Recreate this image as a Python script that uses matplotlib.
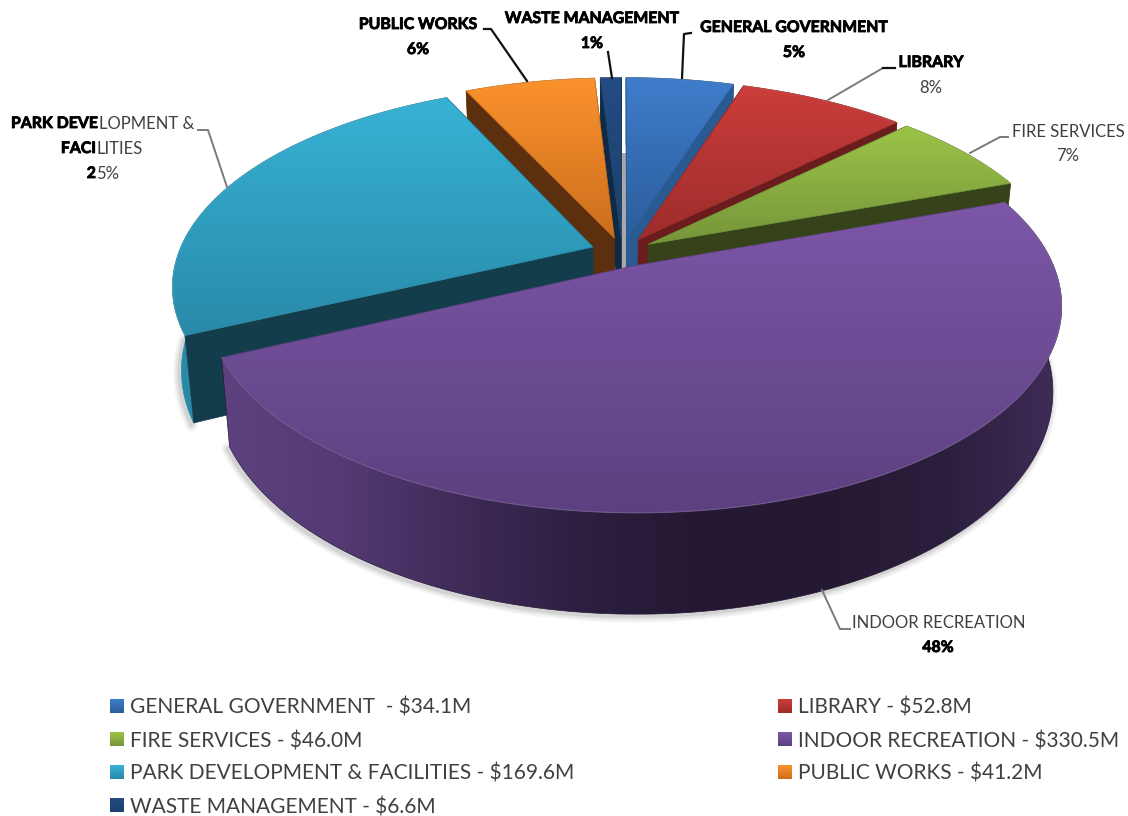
import numpy as np
import matplotlib
matplotlib.use("Agg")
import matplotlib.pyplot as plt
import matplotlib.patheffects as pe
from matplotlib.colors import LinearSegmentedColormap
from matplotlib.patches import Polygon

# data
categories = ["GENERAL GOVERNMENT", "LIBRARY", "FIRE SERVICES", "INDOOR RECREATION",
              "PARK DEVELOPMENT & FACILITIES", "PUBLIC WORKS", "WASTE MANAGEMENT"]
values = [34.1, 52.8, 46.0, 330.5, 169.6, 41.2, 6.6]
percent_labels = ["5%", "8%", "7%", "48%", "25%", "6%", "1%"]
legend_labels = ["GENERAL GOVERNMENT  - $34.1M", "LIBRARY - $52.8M", "FIRE SERVICES - $46.0M",
                 "INDOOR RECREATION - $330.5M", "PARK DEVELOPMENT & FACILITIES - $169.6M",
                 "PUBLIC WORKS - $41.2M", "WASTE MANAGEMENT - $6.6M"]

# colours: top of face, bottom of face, cut wall
top_hi = ["#3F7DCB", "#CB3D3B", "#9DC448", "#7C57A7", "#37B2D5", "#FB922C", "#234C82"]
top_lo = ["#2B5D9C", "#9C2D2B", "#76953A", "#5C4080", "#298AA8", "#CC6E1E", "#1D3F6C"]
wall_col = ["#2A5A92", "#6B1D1D", "#36431A", "#4A3466", "#143D4B", "#5C300E", "#0E2A45"]

# paint order, back to front
draw_order = [0, 6, 5, 1, 2, 4, 3]

CX, CY = 622, 252
RX, RY = 414, 195
PERSP = 0.1876
DEPTH = 81
EXPLODE = 0.075

fig = plt.figure(figsize=(11.28, 8.16), dpi=100)
ax = fig.add_axes([0, 0, 1, 1])
ax.axis("off")
z = [1]


def project(u, v, lower=False):
    d = 1 + PERSP * v
    if lower:
        return CX + 0.98 * RX * u / d, CY - RY * v / d + DEPTH / d
    return CX + RX * u / d, CY - RY * v / d


def fill_grad(xs, ys, colors, horizontal=False):
    pts = np.column_stack([xs, ys])
    z[0] += 1
    clip = Polygon(pts, closed=True, fc="none", ec="none", zorder=z[0])
    ax.add_patch(clip)
    cmap = LinearSegmentedColormap.from_list("g", colors)
    ramp = np.linspace(0, 1, 256)
    ramp = ramp[None, :] if horizontal else ramp[:, None]
    im = ax.imshow(ramp, cmap=cmap, vmin=0, vmax=1, aspect="auto", zorder=z[0],
                   extent=(xs.min(), xs.max(), ys.max(), ys.min()), interpolation="bilinear")
    im.set_clip_path(clip)
    mid = colors[len(colors) // 2]
    z[0] += 1
    ax.add_patch(Polygon(pts, closed=True, fc="none", ec=mid, lw=0.5, zorder=z[0]))


fractions = np.array(values) / sum(values)
edges = np.concatenate([[0], np.cumsum(fractions)]) * 2 * np.pi

# grey strip seen through the gap at the back
ax.fill_between([622, 627], [153, 153], [270, 270], color="#A9A9A9", zorder=1, lw=0)

for i in draw_order:
    a0, a1 = edges[i], edges[i + 1]
    mid = (a0 + a1) / 2
    ou, ov = EXPLODE * np.sin(mid), EXPLODE * np.cos(mid)
    t = np.linspace(a0, a1, 200)
    u = ou + np.sin(t)
    v = ov + np.cos(t)
    tx, ty = project(u, v)
    bx, by = project(u, v, lower=True)
    ax0, ay0 = project(ou, ov)
    bx0, by0 = project(ou, ov, lower=True)
    is_front = categories[i] == "INDOOR RECREATION"

    # soft shadow below the rim
    if is_front or categories[i] == "PARK DEVELOPMENT & FACILITIES":
        front = np.cos(t) < -0.05
        z[0] += 1
        for lw, al in [(9, 0.05), (6, 0.07), (3, 0.10)]:
            ax.plot(bx[front] - 2, by[front] + 2, color="#303030", lw=lw, alpha=al, zorder=z[0],
                    solid_capstyle="round")

    # rim wall first, the cut walls and the face go over it
    rx = np.concatenate([tx, bx[::-1]])
    ry = np.concatenate([ty, by[::-1]])
    if is_front:
        fill_grad(rx, ry, ["#5E4280", "#533A72", "#3E2B58", "#2C1F40", "#241833", "#241833",
                           "#2A1E3C", "#3F2C58"], horizontal=True)
    else:
        fill_grad(rx, ry, [top_lo[i], top_lo[i]], horizontal=True)

    # cut walls, the big front slice shows none of its own
    if not is_front:
        for k in (0, -1):
            z[0] += 1
            ax.add_patch(Polygon([(ax0, ay0), (tx[k], ty[k]), (bx[k], by[k]), (bx0, by0)], closed=True,
                                 fc=wall_col[i], ec=wall_col[i], lw=0.4, zorder=z[0]))

    # top face
    fx = np.concatenate([[ax0], tx])
    fy = np.concatenate([[ay0], ty])
    fill_grad(fx, fy, [top_hi[i], top_lo[i]])
    z[0] += 1
    ax.plot(tx, ty, color="white", alpha=0.12, lw=1, zorder=z[0])

# leader lines
TZ = z[0] + 10
GREY = "#7A7A7A"
ax.plot([484, 491, 527], [29, 29, 81], color="#111111", lw=1.6, zorder=TZ)
ax.plot([608, 612], [52, 78], color="#111111", lw=1.6, zorder=TZ)
ax.plot([691, 684, 682], [33, 34, 78], color="#111111", lw=1.6, zorder=TZ)
ax.plot([895, 883, 828], [68, 68, 100], color=GREY, lw=1.4, zorder=TZ)
ax.plot([883, 895], [68, 68], color="#111111", lw=1.6, zorder=TZ)
ax.plot([1008, 1000, 970], [137, 137, 153], color=GREY, lw=1.4, zorder=TZ)
ax.plot([198, 208, 227], [130, 130, 187], color=GREY, lw=1.4, zorder=TZ)
ax.plot([850, 840, 822], [629, 629, 590], color=GREY, lw=1.4, zorder=TZ)

FONT = "Lato"
LAB = 12.0
LAB_BOLD = 11.4
DARK = "#404040"
heavy = [pe.withStroke(linewidth=0.6, foreground="black")]


def label(x, y, s, bold=False, ha="center"):
    ax.text(x, y + 1, s, family=FONT, fontsize=LAB_BOLD if bold else LAB, ha=ha, va="center",
            zorder=TZ + 1, color="black" if bold else DARK, fontweight="bold" if bold else "normal",
            path_effects=heavy if bold else None)


# data labels
label(418, 24, categories[5], bold=True)
label(418, 49, percent_labels[5], bold=True)
label(592, 18, categories[6], bold=True)
label(592, 43, percent_labels[6], bold=True)
label(794, 27, categories[0], bold=True)
label(794, 52, percent_labels[0], bold=True)
label(931, 62, categories[1], bold=True)
label(931, 87, percent_labels[1])
label(1068, 131, categories[2])
label(1068, 155, percent_labels[2])
label(939, 622, categories[3])
label(938, 647, percent_labels[3], bold=True)
# park label is half bold in the source
label(98, 123, "PARK DEVE", bold=True, ha="right")
label(99, 123, "LOPMENT &", ha="left")
label(96, 148, "FACI", bold=True, ha="right")
label(97, 148, "LITIES", ha="left")
label(96, 173, percent_labels[4][0], bold=True, ha="right")
label(96, 173, percent_labels[4][1:], ha="left")

# legend, filled row by row
for n, s in enumerate(legend_labels):
    row, col = n // 2, n % 2
    x = 130 if col == 0 else 798
    y = 706 + row * 33
    ramp = np.linspace(0, 1, 32)[:, None]
    cmap = LinearSegmentedColormap.from_list("g", [top_hi[n], top_lo[n]])
    ax.imshow(ramp, cmap=cmap, aspect="auto", extent=(x - 20, x - 6, y + 7, y - 7), zorder=TZ)
    ax.text(x, y + 2, s, family=FONT, fontsize=15, color=DARK, ha="left", va="center", zorder=TZ)

ax.set_xlim(0, 1128)
ax.set_ylim(816, 0)
fig.savefig("out.png", dpi=100, facecolor="white")
